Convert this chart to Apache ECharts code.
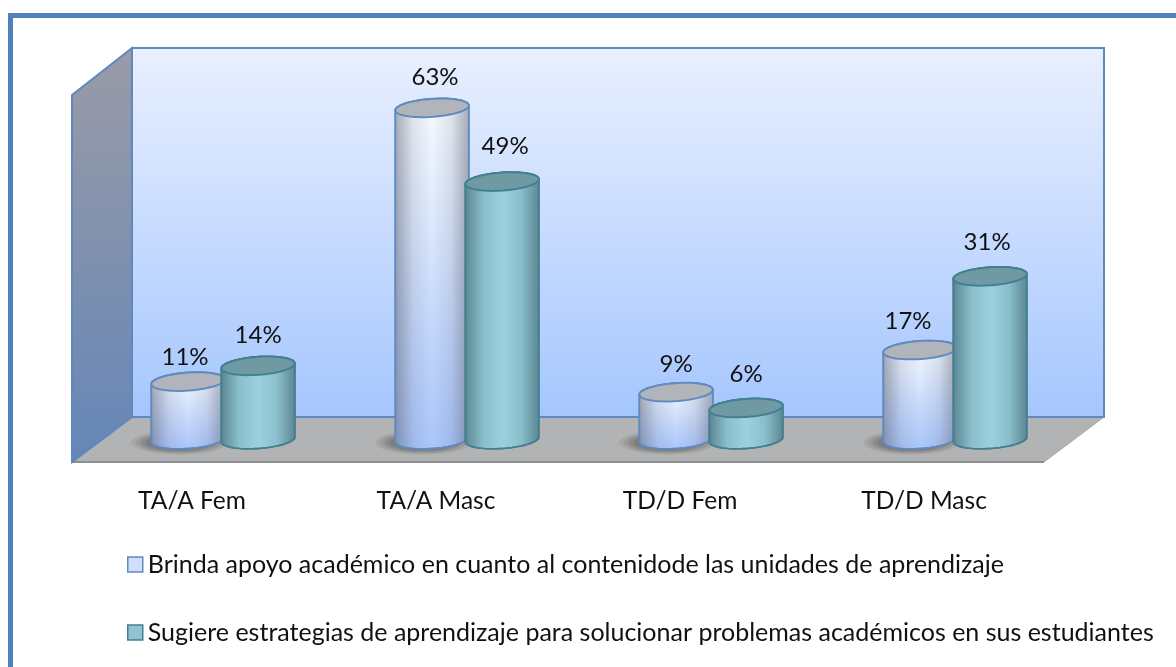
<!DOCTYPE html>
<html><head><meta charset="utf-8">
<style>html,body{margin:0;padding:0;background:#fff}#c{width:1176px;height:667px}</style>
<script src="https://cdn.jsdelivr.net/npm/echarts@6/dist/echarts.min.js"></script>
</head><body><div id="c"></div>
<script>
const categories = ['TA/A Fem','TA/A Masc','TD/D Fem','TD/D Masc'];
const seriesNames = ['Brinda apoyo académico en cuanto al contenidode las unidades de aprendizaje',
                     'Sugiere estrategias de aprendizaje para solucionar problemas académicos en sus estudiantes'];
const apoyo = [11,63,9,17];
const estrategias = [14,49,6,31];
// how far each value label floats above its cylinder top, and its sideways nudge
const labelLift = [[24,31,28,29],[31,35,34,34]];
const labelNudge = [[-3,3,0,-12],[0,3,0,-3]];

const FONT = 'Lato, Carlito, "Open Sans", sans-serif';
const TILT = 4 * Math.PI / 180, RY = 9;

const looks = [
  {side:[[0,'#f8fbff'],[1,'#a9c6fc']], top:'#b1b4ba', line:'#5f8bc1', edge:[85,88,105], a:0.5},
  {side:[[0,'#9bd2e0'],[1,'#9bd2e0']], top:'#6f9aa3', line:'#43808f', edge:[50,85,95], a:0.62}
];
const stops = a => a.map(s => ({offset:s[0],color:s[1]}));
const rgba = (c,a) => 'rgba('+c.join(',')+','+a+')';

function ellipsePts(cx,cy,rx,ry,from,to,n){
  const out=[];
  for(let i=0;i<=n;i++){
    const t=from+(to-from)*i/n, x=rx*Math.cos(t), y=ry*Math.sin(t);
    out.push([cx+x*Math.cos(TILT)+y*Math.sin(TILT), cy-x*Math.sin(TILT)+y*Math.cos(TILT)]);
  }
  return out;
}

function cylinder(si){
  return function(params,api){
    const i=api.value(0), v=api.value(1);
    const base=api.coord([i,0]), top=api.coord([i,v]);
    const band=api.size([1,0])[0];
    const rx=band*0.151, cx=base[0]+(si===0?-0.135:0.152)*band;
    const y0=base[1], y1=top[1];
    const look=looks[si];
    const outline=ellipsePts(cx,y0,rx,RY,0,Math.PI,36).concat(ellipsePts(cx,y1,rx,RY,Math.PI,2*Math.PI,36));
    const cap=ellipsePts(cx,y1,rx,RY,0,2*Math.PI,60);
    const kids=[];
    if(si===0){
      [[1.0,0.09],[0.9,0.12],[0.8,0.15],[0.7,0.16],[0.6,0.16]].forEach(function(s){
        kids.push({type:'ellipse',shape:{cx:cx-9,cy:y0+3,rx:(rx+11)*s[0],ry:12*s[0]},z2:0,
          style:{fill:'rgba(60,60,60,'+s[1]+')'}});
      });
    }
    kids.push({type:'polygon',shape:{points:outline},z2:1,style:{
      fill:{type:'linear',x:0,y:0,x2:0,y2:1,colorStops:stops(look.side)},stroke:look.line,lineWidth:1.6}});
    kids.push({type:'polygon',shape:{points:outline},z2:2,style:{
      fill:{type:'linear',x:0,y:0,x2:1,y2:0,colorStops:[
        {offset:0,color:rgba(look.edge,look.a)},{offset:0.25,color:rgba(look.edge,look.a*0.25)},
        {offset:0.5,color:rgba(look.edge,0)},
        {offset:0.75,color:rgba(look.edge,look.a*0.25)},{offset:1,color:rgba(look.edge,look.a)}]},
      stroke:look.line,lineWidth:1.6}});
    kids.push({type:'polygon',shape:{points:cap},z2:3,style:{fill:look.top,stroke:look.line,lineWidth:2}});
    kids.push({type:'text',z2:4,style:{text:v+'%',x:cx+labelNudge[si][i],y:y1-labelLift[si][i],
      align:'center',verticalAlign:'middle',font:'24px '+FONT,fill:'#111'}});
    return {type:'group',children:kids};
  };
}

const frameBlue='#4f81bd', wallLine='#5f88bd';
const chrome=[
  {type:'polygon',shape:{points:[[72,462],[132,417],[1104,417],[1044,462]]},z:-3,
   style:{fill:'#b2b3b4',stroke:'#a5a6a7',lineWidth:1}},
  {type:'line',shape:{x1:72,y1:462,x2:1044,y2:462},z:-2,style:{stroke:'#8e8f90',lineWidth:2}},
  {type:'polygon',shape:{points:[[72,95],[132,48],[132,417],[72,462]]},z:-2,
   style:{fill:{type:'linear',x:0,y:0,x2:0,y2:1,colorStops:[{offset:0,color:'#9a9ba6'},{offset:1,color:'#6486b8'}]},
   stroke:wallLine,lineWidth:2}},
  {type:'rect',shape:{x:132,y:48,width:972,height:369},z:-2,
   style:{fill:{type:'linear',x:0,y:0,x2:0,y2:1,colorStops:[{offset:0,color:'#e9f0ff'},{offset:1,color:'#a5c6fe'}]},
   stroke:wallLine,lineWidth:2}},
  {type:'rect',shape:{x:8,y:13,width:1172,height:5},z:-1,style:{fill:frameBlue}},
  {type:'rect',shape:{x:8,y:13,width:5,height:660},z:-1,style:{fill:frameBlue}}
];

const chart=echarts.init(document.getElementById('c'),null,{renderer:'canvas'});
chart.setOption({
  animation:false,
  backgroundColor:'#fff',
  graphic:{elements:chrome},
  grid:{left:99,width:976,top:71,height:368.5},
  xAxis:{type:'category',data:categories,
    axisLine:{show:false},axisTick:{show:false},
    axisLabel:{color:'#111',fontFamily:FONT,fontSize:24.5,margin:49,padding:[0,58,0,0],interval:0}},
  yAxis:{type:'value',min:0,max:70,show:false,splitLine:{show:false}},
  legend:{orient:'vertical',left:122,top:547,itemWidth:15,itemHeight:15,itemGap:43,
    textStyle:{color:'#111',fontFamily:FONT,fontSize:25},
    data:[
      {name:seriesNames[0],icon:'rect',itemStyle:{color:'#cfdefb',borderColor:'#5f8bc1',borderWidth:1.5}},
      {name:seriesNames[1],icon:'rect',itemStyle:{color:'#92c3d0',borderColor:'#43808f',borderWidth:1.5}}
    ]},
  series:[
    {name:seriesNames[0],type:'custom',z:3,renderItem:cylinder(0),encode:{x:0,y:1},
     itemStyle:{color:'#cfdefb'},data:apoyo.map((v,i)=>[i,v])},
    {name:seriesNames[1],type:'custom',z:4,renderItem:cylinder(1),encode:{x:0,y:1},
     itemStyle:{color:'#92c3d0'},data:estrategias.map((v,i)=>[i,v])}
  ]
});
</script></body></html>
